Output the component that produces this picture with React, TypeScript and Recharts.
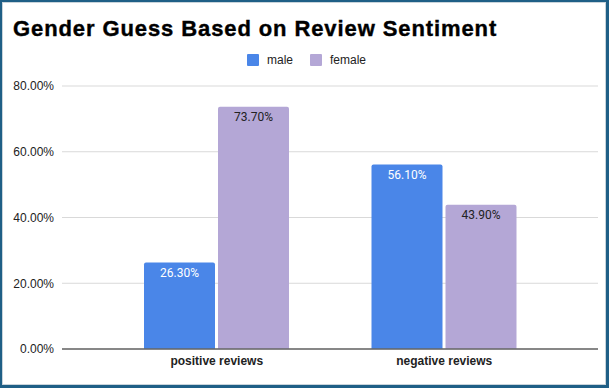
import { BarChart, Bar, XAxis, YAxis, CartesianGrid, Legend, LabelList } from 'recharts'

const categories = ['positive reviews', 'negative reviews']
const male = [26.3, 56.1]
const female = [73.7, 43.9]
const yTicks = [0, 20, 40, 60, 80]

const data = categories.map((category, i) => ({ category, male: male[i], female: female[i] }))

const pct = (v: number) => v.toFixed(2) + '%'

const series = [
	{ key: 'male', color: '#4a86e8', label: '#ffffff' },
	{ key: 'female', color: '#b4a7d6', label: '#222222' },
]

// legend drawn in a zero-height wrapper so it doesn't push the plot down
const LegendBox = () => (
	<div
		style={{
			position: 'absolute',
			top: 54,
			left: 2,
			width: 609,
			display: 'flex',
			justifyContent: 'center',
			fontFamily: '"Liberation Sans", Arial, sans-serif',
			fontSize: 12,
			color: '#222',
		}}
	>
		{series.map((s, i) => (
			<div key={s.key} style={{ display: 'flex', alignItems: 'center', marginLeft: i ? 17 : 0, height: 12 }}>
				<span style={{ width: 12, height: 12, background: s.color, borderRadius: 1, marginRight: 8 }} />
				<span style={{ lineHeight: '12px' }}>{s.key}</span>
			</div>
		))}
	</div>
)

export default function App() {
	return (
		<div style={{ position: 'absolute', left: 0, top: 0, width: 609, height: 388, background: '#fff' }}>
			<div
				style={{
					position: 'absolute',
					left: 13,
					top: 18,
					fontFamily: '"Liberation Sans", Arial, sans-serif',
					fontWeight: 'bold',
					fontSize: 22,
					lineHeight: '22px',
					letterSpacing: 0.9,
					WebkitTextStroke: '0.4px #000',
					color: '#000',
					whiteSpace: 'nowrap',
				}}
			>
				Gender Guess Based on Review Sentiment
			</div>
			<BarChart
				width={609}
				height={388}
				data={data}
				margin={{ top: 86, right: 11, bottom: 0, left: 0 }}
				barCategoryGap={41}
				barGap={3}
			>
				<CartesianGrid vertical={false} stroke='#d9d9d9' />
				<XAxis
					dataKey='category'
					height={39}
					padding={{ left: 41, right: 40 }}
					tickLine={false}
					tickSize={0}
					tickMargin={7}
					axisLine={{ stroke: '#666', strokeWidth: 1.5 }}
					tick={{ fill: '#222', fontSize: 12, fontWeight: 'bold', fontFamily: '"Liberation Sans", Arial, sans-serif' }}
				/>
				<YAxis
					width={62}
					domain={[0, 80]}
					ticks={yTicks}
					tickFormatter={pct}
					tickLine={false}
					axisLine={false}
					tickSize={0}
					tickMargin={8}
					tick={{ fill: '#222', fontSize: 12, fontFamily: '"Liberation Sans", Arial, sans-serif' }}
				/>
				<Legend
					content={LegendBox}
					wrapperStyle={{ position: 'absolute', top: 0, left: 0, width: 0, height: 0 }}
				/>
				{series.map((s) => (
					<Bar key={s.key} dataKey={s.key} fill={s.color} radius={[2, 2, 0, 0]} isAnimationActive={false}>
						<LabelList
							dataKey={s.key}
							position='insideTop'
							offset={6}
							formatter={(v: any) => pct(Number(v))}
							fill={s.label}
							fontSize={12}
							fontFamily='Roboto, sans-serif'
						/>
					</Bar>
				))}
			</BarChart>
			<div
				style={{
					position: 'absolute',
					left: 0,
					top: 0,
					width: 609,
					height: 388,
					boxSizing: 'border-box',
					borderStyle: 'solid',
					borderColor: '#1f5f86',
					borderWidth: '2px 3px 3px 2px',
					boxShadow: 'inset 0 0 0 1px #c9d4db',
					pointerEvents: 'none',
				}}
			/>
		</div>
	)
}
